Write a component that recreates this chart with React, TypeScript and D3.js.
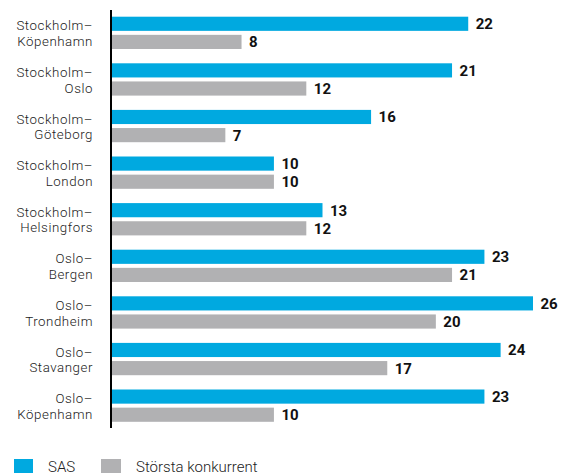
import React from "react";
import * as d3 from "d3";

const categories: string[][] = [
  ["Stockholm–", "Köpenhamn"],
  ["Stockholm–", "Oslo"],
  ["Stockholm–", "Göteborg"],
  ["Stockholm–", "London"],
  ["Stockholm–", "Helsingfors"],
  ["Oslo–", "Bergen"],
  ["Oslo–", "Trondheim"],
  ["Oslo–", "Stavanger"],
  ["Oslo–", "Köpenhamn"],
];
const sasValues = [22, 21, 16, 10, 13, 23, 26, 24, 23];
const competitorValues = [8, 12, 7, 10, 12, 21, 20, 17, 10];
const seriesNames = ["SAS", "Största konkurrent"];
const seriesColors = ["#00A9E0", "#B1B1B3"];

const W = 561;
const H = 473;

export default function App() {
  const keys = categories.map((c) => c.join(""));
  const x = d3.scaleLinear().domain([0, 26]).range([112, 533]);
  const y = d3.scaleBand<string>().domain(keys).range([10, 429.4]).padding(0);
  const inner = d3
    .scaleBand<string>()
    .domain(seriesNames)
    .range([6.7, 39])
    .paddingInner(0.22);
  const series = [sasValues, competitorValues];
  const labelFont = "Roboto, 'Open Sans', sans-serif";

  return (
    <svg
      width={W}
      height={H}
      style={{ position: "absolute", left: 0, top: 0, background: "#fff" }}
    >
      {keys.map((k, i) => {
        const y0 = y(k)!;
        const cy = y0 + y.bandwidth() / 2;
        return (
          <g key={k}>
            <text
              x={93}
              y={cy - 3}
              textAnchor="end"
              fontFamily={labelFont}
              fontWeight={300}
              fontSize={13.3}
              letterSpacing={0.55}
              fill="#222"
            >
              {categories[i][0]}
            </text>
            <text
              x={93}
              y={cy + 12.6}
              textAnchor="end"
              fontFamily={labelFont}
              fontWeight={300}
              fontSize={13.3}
              letterSpacing={0.55}
              fill="#222"
            >
              {categories[i][1]}
            </text>
            {series.map((vals, s) => {
              const by = y0 + inner(seriesNames[s])!;
              return (
                <g key={s}>
                  <rect
                    x={x(0)}
                    y={by}
                    width={x(vals[i]) - x(0)}
                    height={inner.bandwidth()}
                    fill={seriesColors[s]}
                  />
                  <text
                    x={x(vals[i]) + 7.5}
                    y={by + inner.bandwidth() / 2 + 5.5}
                    fontFamily={labelFont}
                    fontWeight={700}
                    fontSize={15}
                    fill="#111"
                  >
                    {vals[i]}
                  </text>
                </g>
              );
            })}
          </g>
        );
      })}
      <line x1={111} x2={111} y1={10} y2={428} stroke="#000" strokeWidth={2} />
      <g>
        <rect x={14} y={459} width={19} height={14} fill={seriesColors[0]} />
        <text x={48} y={472} fontFamily={labelFont} fontWeight={300} fontSize={15} fill="#222">
          {seriesNames[0]}
        </text>
        <rect x={101} y={459} width={20} height={14} fill={seriesColors[1]} />
        <text x={136} y={472} fontFamily={labelFont} fontWeight={300} fontSize={15} fill="#222">
          {seriesNames[1]}
        </text>
      </g>
    </svg>
  );
}
